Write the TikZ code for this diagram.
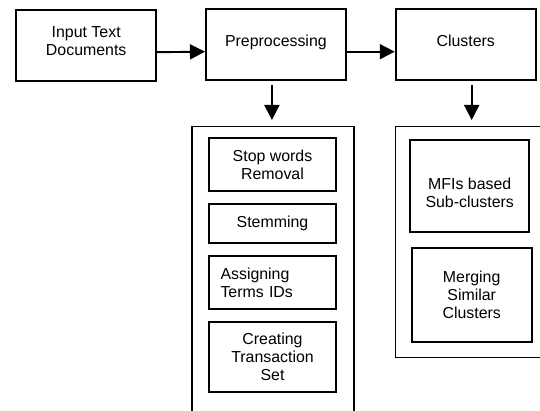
\documentclass[tikz,border=0pt]{standalone}
\usepackage{fontspec}
\setmainfont{Liberation Sans}
\usetikzlibrary{arrows.meta}

\begin{document}
\begin{tikzpicture}[x=1pt, y=-1pt, every node/.style={font=\fontsize{15.9}{18.3}\selectfont, align=center}, >={Triangle[length=15pt, width=15pt]}, blk/.style={draw, line width=1.9pt, minimum width=140pt, minimum height=71pt, inner sep=0pt, text depth=8pt}, grp/.style={draw, line width=1.4pt, inner sep=0pt}, sub/.style={draw, line width=1.9pt, inner sep=0pt}, link/.style={->, line width=1.9pt}]
	\useasboundingbox (0,0) rectangle (540,411);
	\clip (0,0) rectangle (540,411);
	% main pipeline
	\node[blk] (input) at (86.2,45.2) {Input Text\\Documents};
	\node[blk] (prep) at (275.9,44.7) {Preprocessing};
	\node[blk] (clus) at (465.7,44.7) {Clusters};
	\draw[link] ([yshift=-7pt]input.east) -- ([yshift=-7pt]prep.west);
	\draw[link] ([yshift=-7pt]prep.east) -- ([yshift=-7pt]clus.west);
	% containers below the stages
	\node[grp, minimum width=162pt, minimum height=300pt, anchor=north] (prepgrp) at (273,126) {};
	\node[grp, minimum width=170pt, minimum height=230.7pt, anchor=north west] (clusgrp) at (395,126) {};
	\draw[link, shorten <=4pt, shorten >=6pt] ([xshift=-4pt]prep.south) -- ([xshift=-4pt]prep.south |- prepgrp.north);
	\draw[link, shorten <=4pt, shorten >=6pt] ([xshift=6pt]clus.south) -- ([xshift=6pt]clus.south |- clusgrp.north);
	% preprocessing steps
	\node[sub, minimum width=127pt, minimum height=52.7pt] (stop) at (272.5,164.7) {Stop words\\Removal};
	\node[sub, minimum width=127pt, minimum height=39.3pt] (stem) at (272.5,223.7) {Stemming};
	\node[sub, minimum width=127pt, minimum height=53.3pt, text width=104pt, align=left] (assign) at (272.5,282.7) {Assigning\\Terms IDs};
	\node[sub, minimum width=127pt, minimum height=70pt] (trans) at (272.5,356.7) {Creating\\Transaction\\Set};
	% clustering steps
	\node[sub, minimum width=119.3pt, minimum height=92.3pt, text height=43pt] (mfi) at (469.7,186.2) {MFIs based\\Sub-clusters};
	\node[sub, minimum width=120pt, minimum height=93.3pt] (merge) at (471.7,295) {Merging\\Similar\\Clusters};
\end{tikzpicture}
\end{document}
